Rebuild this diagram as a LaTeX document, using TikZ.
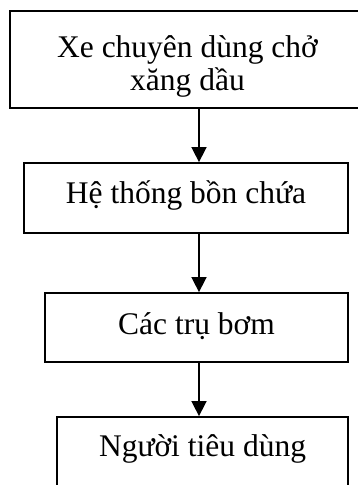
\documentclass[tikz,border=0pt]{standalone}
\usepackage{fontspec}
\setmainfont{Liberation Serif}
\usetikzlibrary{arrows.meta}
\begin{document}
\begin{tikzpicture}[x=1pt,y=-1pt,
  box/.style={draw, line width=1.8pt, rectangle, inner sep=0pt},
  lbl/.style={font=\fontsize{31.5}{32}\selectfont, inner sep=0pt, align=center},
  flow/.style={line width=1.6pt, -{Triangle[length=15pt,width=15pt]}}]
\useasboundingbox (0,0) rectangle (358,485);
\clip (0,0) rectangle (358,485);
\node[box, minimum width=355pt, minimum height=97pt] (b1) at (187.5,59.5) {};
\node[box, minimum width=324pt, minimum height=70pt] (b2) at (186,198) {};
\node[box, minimum width=303pt, minimum height=69pt] (b3) at (196.5,327.5) {};
\node[box, minimum width=291pt, minimum height=70pt] (b4) at (202.5,452) {};
\node[lbl] (t1) at (187.5,67.6) {\strut Xe chuyên dùng chở\\xăng dầu\strut};
\node[lbl, anchor=base] (t2) at (186,203.3) {Hệ thống bồn chứa};
\node[lbl, anchor=base] (t3) at (196.5,334) {Các trụ bơm};
\node[lbl, anchor=base] (t4) at (202.5,456) {Người tiêu dùng};
\coordinate (ax) at (199,0);
\draw[flow] (b1.south -| ax) -- (b2.north -| ax);
\draw[flow] (b2.south -| ax) -- (b3.north -| ax);
\draw[flow] (b3.south -| ax) -- (b4.north -| ax);
\end{tikzpicture}
\end{document}
